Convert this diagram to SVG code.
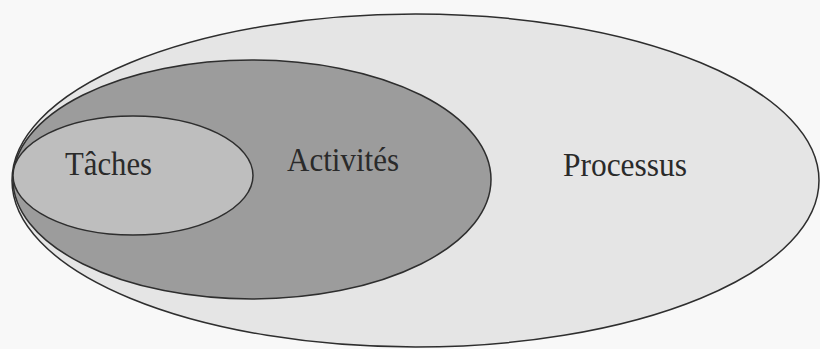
<svg xmlns="http://www.w3.org/2000/svg" width="820" height="349" viewBox="0 0 820 349">
  <style>
    .shape { stroke: #2e2e2e; stroke-width: 1.5; }
    .label { font-family: "Liberation Serif", "Times New Roman", serif; font-size: 34px; fill: #2a2a2a; }
  </style>
  <rect x="0" y="0" width="820" height="349" fill="#f8f8f8"/>
  <g id="processus">
    <ellipse class="shape" cx="415.5" cy="180.5" rx="403.5" ry="166.5" fill="#e5e5e5"/>
    <text class="label" x="563" y="176" textLength="124" lengthAdjust="spacingAndGlyphs">Processus</text>
  </g>
  <g id="activites">
    <ellipse class="shape" cx="252" cy="179.5" rx="239" ry="119.5" fill="#9c9c9c"/>
    <text class="label" x="287" y="171" textLength="112" lengthAdjust="spacingAndGlyphs">Activités</text>
  </g>
  <g id="taches">
    <ellipse class="shape" cx="133" cy="175.5" rx="120" ry="59.5" fill="#bebebe"/>
    <text class="label" x="65" y="175" textLength="87" lengthAdjust="spacingAndGlyphs">Tâches</text>
  </g>
</svg>
